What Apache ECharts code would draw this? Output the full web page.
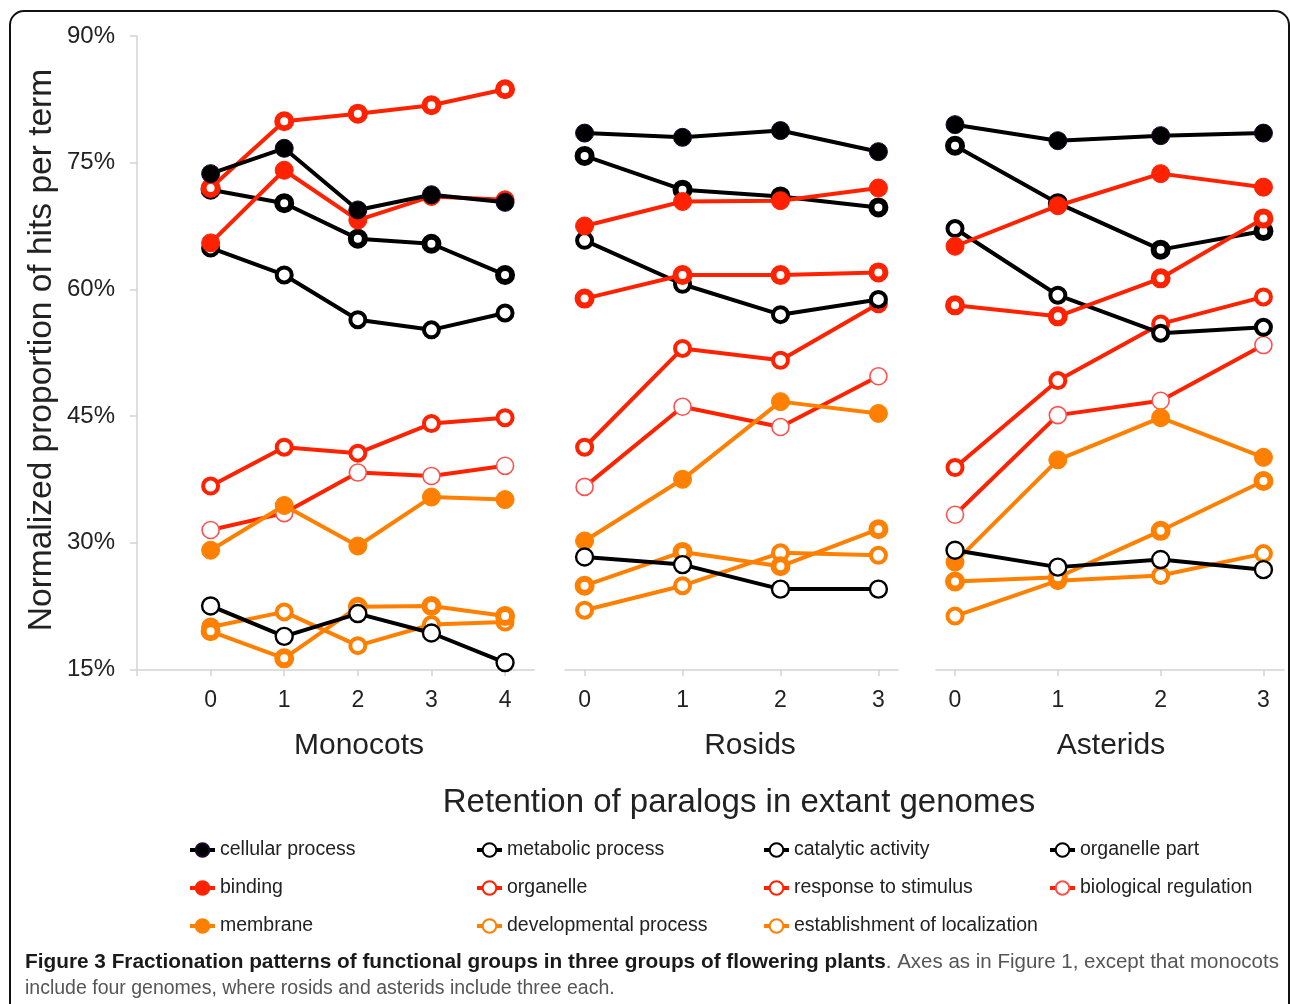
<!DOCTYPE html>
<html>
<head>
<meta charset="utf-8">
<script src="https://cdn.jsdelivr.net/npm/echarts@6/dist/echarts.min.js"></script>
<style>
html,body{margin:0;padding:0;background:#fff;}
#chart{width:1290px;height:1004px;}
</style>
</head>
<body>
<div id="chart"></div>
<script>
// ---------- DATA ----------
const panelNames = ['Monocots', 'Rosids', 'Asterids'];
const monoX = [0, 1, 2, 3, 4];
const rosX = [0, 1, 2, 3];
const astX = [0, 1, 2, 3];
const yTicks = [15, 30, 45, 60, 75, 90];

// Monocots
const monoCellular      = [73.7, 76.7, 69.4, 71.2, 70.3];
const monoMetabolic     = [71.8, 70.2, 66.0, 65.4, 61.7];
const monoCatalytic     = [64.9, 61.7, 56.4, 55.2, 57.2];
const monoOrganellePart = [22.5, 18.9, 21.6, 19.3, 15.8];
const monoBinding       = [65.5, 74.1, 68.2, 71.0, 70.6];
const monoOrganelle     = [72.0, 79.9, 80.8, 81.8, 83.7];
const monoResponse      = [36.7, 41.3, 40.6, 44.1, 44.8];
const monoBioReg        = [31.5, 33.5, 38.3, 37.9, 39.1];
const monoMembrane      = [29.1, 34.4, 29.6, 35.4, 35.1];
const monoDevelopmental = [19.5, 16.3, 22.4, 22.5, 21.3];
const monoEstablish     = [20.0, 21.8, 17.8, 20.3, 20.6];

// Rosids
const rosCellular      = [78.5, 78.0, 78.8, 76.3];
const rosMetabolic     = [75.8, 71.8, 71.0, 69.7];
const rosCatalytic     = [65.8, 60.6, 57.0, 58.8];
const rosOrganellePart = [28.3, 27.4, 24.5, 24.5];
const rosBinding       = [67.5, 70.4, 70.5, 72.0];
const rosOrganelle     = [58.9, 61.7, 61.7, 62.0];
const rosResponse      = [41.3, 53.0, 51.6, 58.3];
const rosBioReg        = [36.6, 46.1, 43.7, 49.7];
const rosMembrane      = [30.2, 37.5, 46.7, 45.3];
const rosDevelopmental = [24.9, 28.9, 27.2, 31.6];
const rosEstablish     = [22.0, 24.9, 28.8, 28.5];

// Asterids
const astCellular      = [79.5, 77.6, 78.2, 78.5];
const astMetabolic     = [77.0, 70.2, 64.7, 66.9];
const astCatalytic     = [67.2, 59.3, 54.8, 55.5];
const astOrganellePart = [29.1, 27.1, 28.0, 26.8];
const astBinding       = [65.1, 69.9, 73.7, 72.1];
const astOrganelle     = [58.1, 56.8, 61.3, 68.4];
const astResponse      = [38.9, 49.2, 55.9, 59.1];
const astBioReg        = [33.3, 45.1, 46.8, 53.4];
const astMembrane      = [27.7, 39.8, 44.8, 40.1];
const astDevelopmental = [25.4, 25.9, 31.4, 37.3];
const astEstablish     = [21.3, 25.5, 26.1, 28.7];

// ---------- STYLE ----------
const BLACK = '#000000', RED = '#ff2200', ORANGE = '#ff8000';
const FONT = 'Liberation Sans, Arial, Helvetica, sans-serif';

// drawing order (bottom -> top)
const terms = [
  {name: 'biological regulation', data: [monoBioReg, rosBioReg, astBioReg], color: RED, fill: '#ffffff', border: '#ff5050', bw: 1.6, size: 17},
  {name: 'response to stimulus', data: [monoResponse, rosResponse, astResponse], color: RED, fill: '#ffffff', border: RED, bw: 4, size: 15},
  {name: 'establishment of localization', data: [monoEstablish, rosEstablish, astEstablish], color: ORANGE, fill: '#ffffff', border: ORANGE, bw: 4, size: 15},
  {name: 'developmental process', data: [monoDevelopmental, rosDevelopmental, astDevelopmental], color: ORANGE, fill: '#ffffff', border: ORANGE, bw: 6, size: 14},
  {name: 'membrane', data: [monoMembrane, rosMembrane, astMembrane], color: ORANGE, fill: ORANGE, border: ORANGE, bw: 1, size: 18},
  {name: 'organelle part', data: [monoOrganellePart, rosOrganellePart, astOrganellePart], color: BLACK, fill: '#ffffff', border: BLACK, bw: 2.4, size: 17},
  {name: 'catalytic activity', data: [monoCatalytic, rosCatalytic, astCatalytic], color: BLACK, fill: '#ffffff', border: BLACK, bw: 4, size: 15},
  {name: 'metabolic process', data: [monoMetabolic, rosMetabolic, astMetabolic], color: BLACK, fill: '#ffffff', border: BLACK, bw: 6, size: 14},
  {name: 'organelle', data: [monoOrganelle, rosOrganelle, astOrganelle], color: RED, fill: '#ffffff', border: RED, bw: 6, size: 14},
  {name: 'binding', data: [monoBinding, rosBinding, astBinding], color: RED, fill: RED, border: RED, bw: 1, size: 18},
  {name: 'cellular process', data: [monoCellular, rosCellular, astCellular], color: BLACK, fill: BLACK, border: '#1a0830', bw: 1, size: 18}
];
const xs = [monoX, rosX, astX];

const grids = [
  {left: 137, top: 36, width: 397.5, height: 633.3},
  {left: 565, top: 36, width: 333, height: 633.3},
  {left: 936, top: 36, width: 348, height: 633.3}
];
const xRanges = [[-1, 4.4], [-0.2, 3.2], [-0.185, 3.2]];

const AXIS_GRAY = '#d4d4d4';
const xAxes = grids.map((g, i) => ({
  type: 'value', gridIndex: i, min: xRanges[i][0], max: xRanges[i][1],
  splitLine: {show: false},
  axisLine: {show: true, onZero: false, lineStyle: {color: AXIS_GRAY, width: 1.5}},
  axisTick: {show: true, length: 7, lineStyle: {color: AXIS_GRAY, width: 1.5},
             customValues: i === 0 ? [-1].concat(xs[i]) : xs[i]},
  axisLabel: {show: true, customValues: xs[i], margin: 20, fontSize: 23, color: '#222', fontFamily: FONT}
}));
const yAxes = grids.map((g, i) => ({
  type: 'value', gridIndex: i, min: yTicks[0], max: yTicks[yTicks.length - 1], interval: 15,
  show: i === 0,
  splitLine: {show: false},
  axisLine: {show: i === 0, onZero: false, lineStyle: {color: AXIS_GRAY, width: 1.5}},
  axisTick: {show: i === 0, length: 7, lineStyle: {color: AXIS_GRAY, width: 1.5}},
  axisLabel: {show: i === 0, formatter: '{value}%', margin: 22, fontSize: 24, color: '#222', fontFamily: FONT}
}));

const series = [];
for (let p = 0; p < 3; p++) {
  terms.forEach((t, k) => {
    series.push({
      type: 'line', name: t.name, xAxisIndex: p, yAxisIndex: p,
      data: xs[p].map((x, j) => [x, t.data[p][j]]),
      symbol: 'circle', symbolSize: t.size, showSymbol: true,
      color: t.color,
      lineStyle: {color: t.color, width: 4},
      itemStyle: {color: t.fill, borderColor: t.border, borderWidth: t.bw, opacity: 1},
      emphasis: {disabled: true},
      z: 2 + k * 0.01,
      animation: false
    });
  });
}

const legendCols = [
  {left: 188, data: ['cellular process', 'binding', 'membrane']},
  {left: 475, data: ['metabolic process', 'organelle', 'developmental process']},
  {left: 762, data: ['catalytic activity', 'response to stimulus', 'establishment of localization']},
  {left: 1048, data: ['organelle part', 'biological regulation']}
];
const legends = legendCols.map(c => ({
  left: c.left, top: 840, orient: 'vertical', data: c.data,
  itemWidth: 25, itemHeight: 17, itemGap: 18, padding: 0,
  selectedMode: false,
  lineStyle: {width: 4},
  textStyle: {fontSize: 19.5, color: '#222', fontFamily: FONT}
}));

const graphic = [
  {type: 'rect', shape: {x: 10, y: 11, width: 1279, height: 1010, r: 14}, style: {fill: 'none', stroke: '#111', lineWidth: 2}, z: 100},
  {type: 'text', x: 359, y: 746, style: {text: panelNames[0], fontSize: 30, fill: '#222', fontFamily: FONT, align: 'center', verticalAlign: 'middle'}},
  {type: 'text', x: 750, y: 746, style: {text: panelNames[1], fontSize: 30, fill: '#222', fontFamily: FONT, align: 'center', verticalAlign: 'middle'}},
  {type: 'text', x: 1111, y: 746, style: {text: panelNames[2], fontSize: 30, fill: '#222', fontFamily: FONT, align: 'center', verticalAlign: 'middle'}},
  {type: 'text', x: 739, y: 803, style: {text: 'Retention of paralogs in extant genomes', fontSize: 33, fill: '#222', fontFamily: FONT, align: 'center', verticalAlign: 'middle'}},
  {type: 'text', x: 42, y: 350, rotation: Math.PI / 2, style: {text: 'Normalized proportion of hits per term', fontSize: 33.5, fill: '#222', fontFamily: FONT, align: 'center', verticalAlign: 'middle'}},
  {type: 'text', x: 25, y: 962, style: {
    text: '{b|Figure 3 Fractionation patterns of functional groups in three groups of flowering plants}{r|. Axes as in Figure 1, except that monocots}',
    verticalAlign: 'middle', fontFamily: FONT,
    rich: {b: {fontSize: 20.8, fontWeight: 'bold', fill: '#1a1a1a', fontFamily: FONT}, r: {fontSize: 20.5, fill: '#555', fontFamily: FONT}}
  }},
  {type: 'text', x: 25, y: 989, style: {text: 'include four genomes, where rosids and asterids include three each.', fontSize: 19.5, fill: '#555', fontFamily: FONT, verticalAlign: 'middle'}}
];

const chart = echarts.init(document.getElementById('chart'), null, {renderer: 'canvas'});
chart.setOption({
  animation: false,
  backgroundColor: '#ffffff',
  grid: grids,
  xAxis: xAxes,
  yAxis: yAxes,
  legend: legends,
  series: series,
  graphic: graphic
});
</script>
</body>
</html>
